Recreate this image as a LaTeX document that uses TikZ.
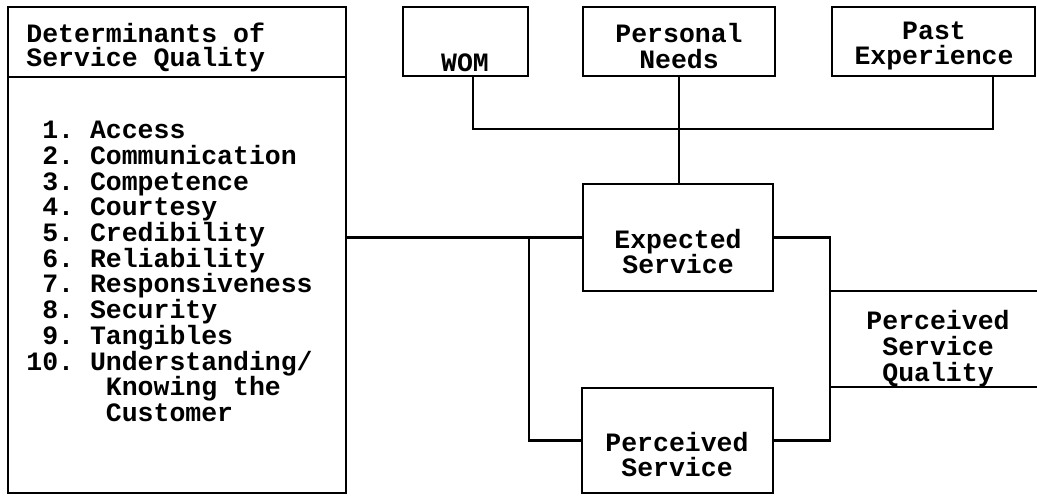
\documentclass[tikz,border=0pt]{standalone}
\usepackage{fontspec}
\newfontfamily\cour{Liberation Mono}
\usetikzlibrary{fit}
\begin{document}
\frenchspacing
\begin{tikzpicture}[x=0.5pt,y=-0.5pt,line width=1.4pt,
  box/.style={draw,inner sep=0pt},
  txt/.style={font=\cour\bfseries\frenchspacing\fontsize{13.25pt}{12.85pt}\selectfont,inner sep=0pt,align=center},
  ltxt/.style={txt,align=left,anchor=west}]
\useasboundingbox (0,0) rectangle (1037,495);
% boxes
\node[box,fit={(8,7) (346,77)}] (head) {};
\node[box,fit={(8,77) (346,493)}] (body) {};
\node[box,fit={(403,7) (528,76)}] (wom) {};
\node[box,fit={(583,7) (775,76)}] (pn) {};
\node[box,fit={(832,7) (1035,76)}] (pe) {};
\node[box,fit={(583,184) (773,291)}] (es) {};
\node[box,fit={(582,388) (773,493)}] (ps) {};
% texts
\node[ltxt,font=\cour\bfseries\frenchspacing\fontsize{13.25pt}{12pt}\selectfont] (headt) at (25,47.5) {Determinants of\\Service Quality};
\node[ltxt] (list) at (25,271.5) {\phantom{1}1. Access\\
\phantom{1}2. Communication\\
\phantom{1}3. Competence\\
\phantom{1}4. Courtesy\\
\phantom{1}5. Credibility\\
\phantom{1}6. Reliability\\
\phantom{1}7. Responsiveness\\
\phantom{1}8. Security\\
\phantom{1}9. Tangibles\\
10. Understanding/\\
\phantom{00000}Knowing the\\
\phantom{00000}Customer};
\node[txt] (womt) at (465,63) {WOM};
\node[txt] (pnt) at (679,46) {Personal\\Needs};
\node[txt] (pet) at (934,46) {Past\\Experience};
\node[txt] (est) at (678,251.5) {Expected\\Service};
\node[txt] (pst) at (677,454.5) {Perceived\\Service};
\node[txt] (psq) at (938,348.5) {Perceived\\Service\\Quality};
% connectors
\coordinate (bus) at (0,129);
\coordinate (wa) at ([xshift=3.75pt]wom.south);
\coordinate (pa) at ([xshift=29.75pt]pe.south);
\draw (wa) -- (wa |- bus) -- (pa |- bus) -- (pa);
\draw (pn.south) -- (pn.south |- es.north);
\coordinate (k) at (529,0);
\draw (body.east |- es.west) -- (es.west);
\draw (k |- es.west) -- (k |- ps.west) -- (ps.west);
\coordinate (j) at (830,0);
\draw (es.east) -- (es.east -| j) -- (ps.east -| j) -- (ps.east);
\coordinate (qt) at (1037,291);
\coordinate (qb) at (1037,387);
\draw (j |- qt) -- (qt);
\draw (j |- qb) -- (qb);
\end{tikzpicture}
\end{document}
